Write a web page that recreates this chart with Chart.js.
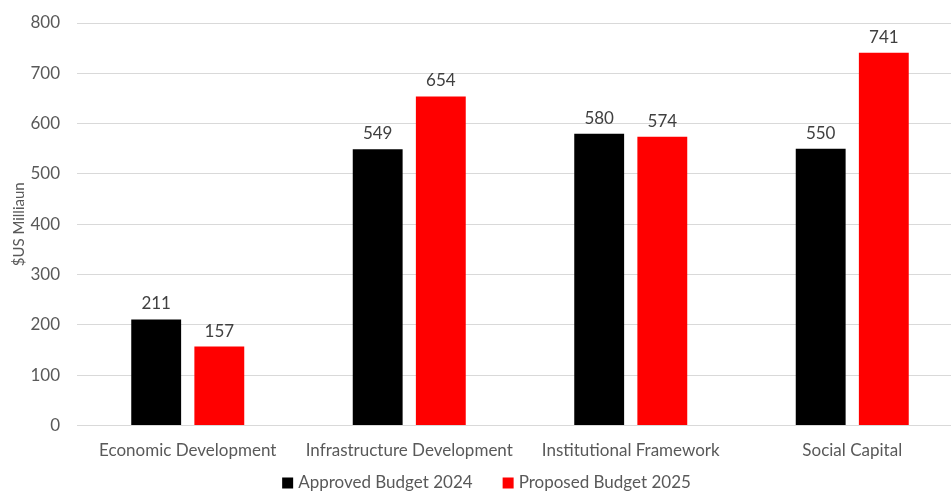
<!DOCTYPE html>
<html>
<head>
<meta charset="utf-8">
<script src="https://cdn.jsdelivr.net/npm/chart.js@4.4.1/dist/chart.umd.min.js"></script>
<style>
html,body{margin:0;padding:0;background:#fff;overflow:hidden;}
#wrap{position:relative;width:963px;height:494px;}
</style>
</head>
<body>
<div id="wrap"><canvas id="c"></canvas></div>
<script>
const categories = ["Economic Development","Infrastructure Development","Institutional Framework","Social Capital"];
const approved2024 = [211, 549, 580, 550];
const proposed2025 = [157, 654, 574, 741];
const seriesNames = ["Approved Budget 2024","Proposed Budget 2025"];
const yTitle = "$US Milliaun";

const FONT = "Lato, 'Open Sans', sans-serif";
const GRAY = "#595959";

const valueLabels = {
  id: 'valueLabels',
  afterDatasetsDraw(chart) {
    const ctx = chart.ctx;
    ctx.save();
    ctx.font = "17px " + FONT;
    ctx.fillStyle = "#404040";
    ctx.textAlign = "center";
    ctx.textBaseline = "bottom";
    chart.data.datasets.forEach((ds, i) => {
      chart.getDatasetMeta(i).data.forEach((bar, j) => {
        ctx.fillText(String(ds.data[j]), bar.x, bar.y - 7);
      });
    });
    ctx.restore();
  }
};

const bottomLegend = {
  id: 'bottomLegend',
  afterDraw(chart) {
    const ctx = chart.ctx;
    ctx.save();
    ctx.font = "17px " + FONT;
    ctx.textBaseline = "middle";
    ctx.textAlign = "left";
    const box = 11, gapBoxText = 5, gapItems = 30;
    const items = chart.data.datasets.map(ds => ({text: ds.label, color: ds.backgroundColor, w: ctx.measureText(ds.label).width}));
    let total = 0;
    items.forEach((it, i) => { total += box + gapBoxText + it.w + (i < items.length - 1 ? gapItems : 0); });
    let x = chart.width / 2 + 5 - total / 2;
    const y = 483;
    items.forEach(it => {
      ctx.fillStyle = it.color;
      ctx.fillRect(x, y - box / 2, box, box);
      x += box + gapBoxText;
      ctx.fillStyle = GRAY;
      ctx.fillText(it.text, x, y);
      x += it.w + gapItems;
    });
    ctx.restore();
  }
};

new Chart(document.getElementById('c'), {
  type: 'bar',
  data: {
    labels: categories,
    datasets: [
      {label: seriesNames[0], data: approved2024, backgroundColor: "#000000", borderWidth: 0, categoryPercentage: 0.57, barPercentage: 0.79},
      {label: seriesNames[1], data: proposed2025, backgroundColor: "#ff0000", borderWidth: 0, categoryPercentage: 0.57, barPercentage: 0.79}
    ]
  },
  options: {
    responsive: true,
    maintainAspectRatio: false,
    animation: false,
    layout: {padding: {top: 23, right: 0, bottom: 18, left: 0}},
    plugins: {
      legend: {display: false},
      tooltip: {enabled: false}
    },
    scales: {
      x: {
        grid: {display: false, drawTicks: false},
        border: {color: "#d9d9d9"},
        ticks: {color: GRAY, font: {family: FONT, size: 17}, padding: 15, maxRotation: 0}
      },
      y: {
        min: 0, max: 800,
        ticks: {stepSize: 100, color: GRAY, font: {family: FONT, size: 17}, padding: 17},
        grid: {color: "#d9d9d9", drawTicks: false},
        border: {display: false},
        title: {display: true, text: yTitle, color: GRAY, font: {family: FONT, size: 15}, padding: {top: 10, bottom: 2}},
        afterFit(scale) { scale.width = 77; scale.paddingTop = 0; }
      }
    }
  },
  plugins: [valueLabels, bottomLegend]
});
</script>
</body>
</html>
